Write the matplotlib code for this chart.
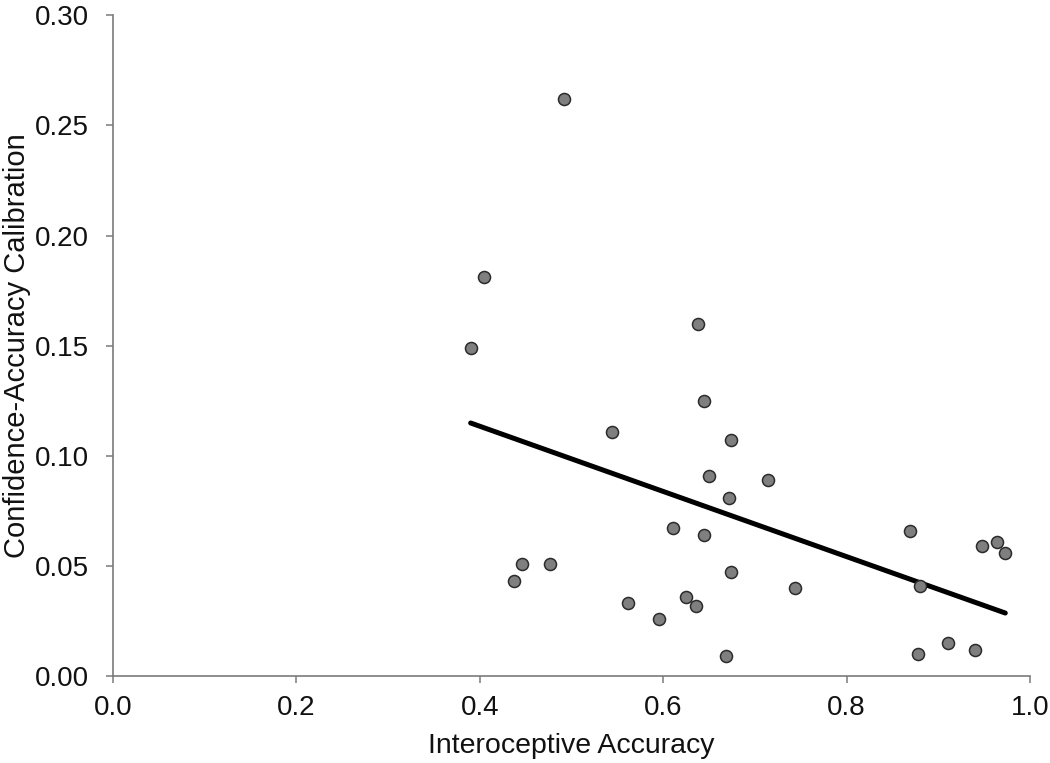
import numpy as np
import matplotlib
matplotlib.use('Agg')
import matplotlib.pyplot as plt

plt.rcParams['font.family'] = ['Liberation Sans', 'DejaVu Sans']

# interoceptive accuracy (x) and confidence-accuracy calibration (y)
ACCURACY = [0.492, 0.405, 0.638, 0.390, 0.645, 0.544, 0.674, 0.650, 0.714,
            0.672, 0.611, 0.645, 0.446, 0.477, 0.437, 0.674, 0.744, 0.625,
            0.562, 0.636, 0.595, 0.669, 0.869, 0.948, 0.964, 0.973, 0.880,
            0.878, 0.911, 0.940]
CALIBRATION = [0.262, 0.181, 0.160, 0.149, 0.125, 0.111, 0.107, 0.091, 0.089,
               0.081, 0.067, 0.064, 0.051, 0.051, 0.043, 0.047, 0.040, 0.036,
               0.033, 0.032, 0.026, 0.009, 0.066, 0.059, 0.061, 0.056, 0.041,
               0.010, 0.015, 0.012]

# regression line as drawn
FIT_SLOPE = -0.148
FIT_INTERCEPT = 0.1726

XTICKS = [0.0, 0.2, 0.4, 0.6, 0.8, 1.0]
YTICKS = [0.00, 0.05, 0.10, 0.15, 0.20, 0.25, 0.30]


def plot():
    fig = plt.figure(figsize=(10.5, 7.63), dpi=100)
    ax = fig.add_axes([0.1076, 0.114, 0.8734, 0.866])

    x = np.array(ACCURACY)
    y = np.array(CALIBRATION)

    xs = np.array([x.min(), x.max()])
    ax.plot(xs, FIT_INTERCEPT + FIT_SLOPE * xs, color='black', linewidth=3.6,
            solid_capstyle='round', zorder=3)
    ax.scatter(x, y, s=75, facecolor='#7f7f7f', edgecolor='#2b2b2b',
               linewidth=1.1, zorder=4)

    ax.set_xlim(0, 1.0)
    ax.set_ylim(0, 0.30)
    ax.set_xticks(XTICKS)
    ax.set_xticklabels(['%.1f' % t for t in XTICKS])
    ax.set_yticks(YTICKS)
    ax.set_yticklabels(['%.2f' % t for t in YTICKS])

    for side in ['top', 'right']:
        ax.spines[side].set_visible(False)
    for side in ['left', 'bottom']:
        ax.spines[side].set_color('#7a7a7a')
        ax.spines[side].set_linewidth(1.2)

    ax.tick_params(axis='both', direction='out', length=5, width=1.1,
                   color='#7a7a7a', labelsize=20, labelcolor='#111111')
    ax.tick_params(axis='y', pad=12)
    ax.tick_params(axis='x', pad=9)

    ax.set_xlabel('Interoceptive Accuracy', fontsize=20.5, color='#111111',
                  labelpad=8)
    ax.set_ylabel('Confidence-Accuracy Calibration', fontsize=21,
                  color='#111111', labelpad=3)

    fig.savefig('out.png', dpi=100)
    plt.close(fig)


if __name__ == '__main__':
    plot()
